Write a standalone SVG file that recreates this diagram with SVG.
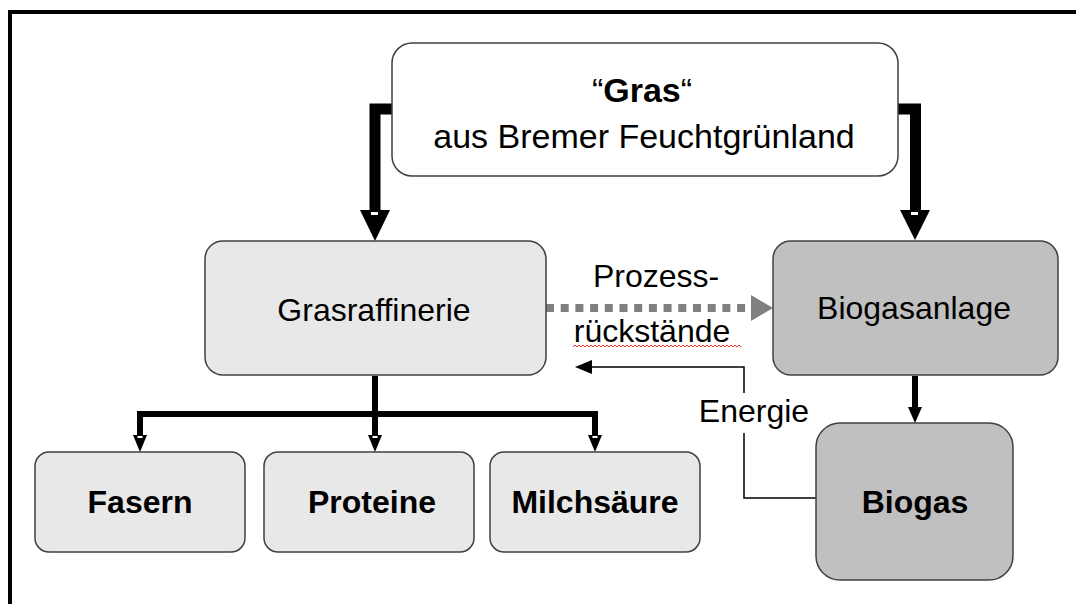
<svg xmlns="http://www.w3.org/2000/svg" width="1076" height="604" viewBox="0 0 1076 604">
<style>
.box{stroke:#404040;stroke-width:1.5}
.t{font-family:"Liberation Sans",Arial,sans-serif;font-size:32px;fill:#000;text-anchor:middle}
.b{font-weight:bold}
.thick{fill:none;stroke:#000;stroke-width:11}
.mid{fill:none;stroke:#000;stroke-width:6}
.thin{fill:none;stroke:#000;stroke-width:1.5}
</style>
<rect x="0" y="0" width="1076" height="604" fill="#fff"/>
<g id="frame">
<rect x="8" y="10" width="1068" height="4" fill="#000"/>
<rect x="8" y="10" width="4" height="594" fill="#000"/>
</g>
<g id="connectors">
<path class="thick" d="M393,109 H375 V212"/>
<polygon points="360,210 390,210 375,241" fill="#000"/>
<rect x="371" y="212" width="7" height="3" fill="#fff"/>
<path class="thick" d="M897,109 H915.5 V212"/>
<polygon points="900,210 930,210 915,240" fill="#000"/>
<rect x="911" y="212" width="7" height="3" fill="#fff"/>
<path class="mid" d="M375,376 V414 M137,414 H598 M140,411 V438 M375,414 V438 M595,411 V438"/>
<polygon points="133,435 147,435 140,452" fill="#000"/>
<polygon points="368,435 382,435 375,452" fill="#000"/>
<polygon points="588,435 602,435 595,452" fill="#000"/>
<rect x="137.5" y="436" width="5" height="2" fill="#fff"/>
<rect x="372.5" y="436" width="5" height="2" fill="#fff"/>
<rect x="592.5" y="436" width="5" height="2" fill="#fff"/>
<path class="mid" d="M915,376 V410"/>
<polygon points="908,407 922,407 915,423" fill="#000"/>
<path d="M546,308 H752" fill="none" stroke="#808080" stroke-width="8" stroke-dasharray="8,6.7"/>
<polygon points="751,295 751,321 773,308" fill="#808080"/>
<path class="thin" d="M816,498 H744 V433 M744,393 V367 H590"/>
<polygon points="575,367 592,360 592,374" fill="#000"/>
</g>
<g id="node-gras">
<rect class="box" x="392" y="43" width="506" height="133" rx="20" fill="#fff"/>
<text class="t" x="642" y="102" style="font-size:34px">“<tspan class="b">Gras</tspan>“</text>
<text class="t" x="644" y="148" style="font-size:34px">aus Bremer Feuchtgrünland</text>
</g>
<g id="node-grasraffinerie">
<rect class="box" x="205" y="241" width="341" height="134" rx="18" fill="#e8e8e8"/>
<text class="t" x="374" y="321">Grasraffinerie</text>
</g>
<g id="node-biogasanlage">
<rect class="box" x="773" y="241" width="285" height="134" rx="18" fill="#c0c0c0"/>
<text class="t" x="914" y="319">Biogasanlage</text>
</g>
<g id="label-prozess">
<text class="t" x="656" y="287">Prozess-</text>
<text class="t" x="652" y="342">rückstände</text>
<path d="M573,347 l2,-2 l2,2 l2,-2 l2,2 l2,-2 l2,2 l2,-2 l2,2 l2,-2 l2,2 l2,-2 l2,2 l2,-2 l2,2 l2,-2 l2,2 l2,-2 l2,2 l2,-2 l2,2 l2,-2 l2,2 l2,-2 l2,2 l2,-2 l2,2 l2,-2 l2,2 l2,-2 l2,2 l2,-2 l2,2 l2,-2 l2,2 l2,-2 l2,2 l2,-2 l2,2 l2,-2 l2,2 l2,-2 l2,2 l2,-2 l2,2 l2,-2 l2,2 l2,-2 l2,2 l2,-2 l2,2 l2,-2 l2,2 l2,-2 l2,2 l2,-2 l2,2 l2,-2 l2,2 l2,-2 l2,2 l2,-2 l2,2 l2,-2 l2,2 l2,-2 l2,2 l2,-2 l2,2 l2,-2 l2,2 l2,-2 l2,2 l2,-2 l2,2 l2,-2 l2,2 l2,-2 l2,2 l2,-2 l2,2 l2,-2 l2,2 l2,-2 l2,2" fill="none" stroke="#e00000" stroke-width="0.8"/>
</g>
<g id="label-energie">
<text class="t" x="754" y="422">Energie</text>
</g>
<g id="node-biogas">
<rect class="box" x="816" y="423" width="197" height="157" rx="24" fill="#c0c0c0"/>
<text class="t b" x="915" y="513">Biogas</text>
</g>
<g id="node-fasern">
<rect class="box" x="35" y="452" width="210" height="100" rx="14" fill="#e8e8e8"/>
<text class="t b" x="140" y="513">Fasern</text>
</g>
<g id="node-proteine">
<rect class="box" x="264" y="452" width="210" height="100" rx="14" fill="#e8e8e8"/>
<text class="t b" x="372" y="513">Proteine</text>
</g>
<g id="node-milchsaeure">
<rect class="box" x="490" y="452" width="210" height="100" rx="14" fill="#e8e8e8"/>
<text class="t b" x="595" y="513">Milchsäure</text>
</g>
</svg>
